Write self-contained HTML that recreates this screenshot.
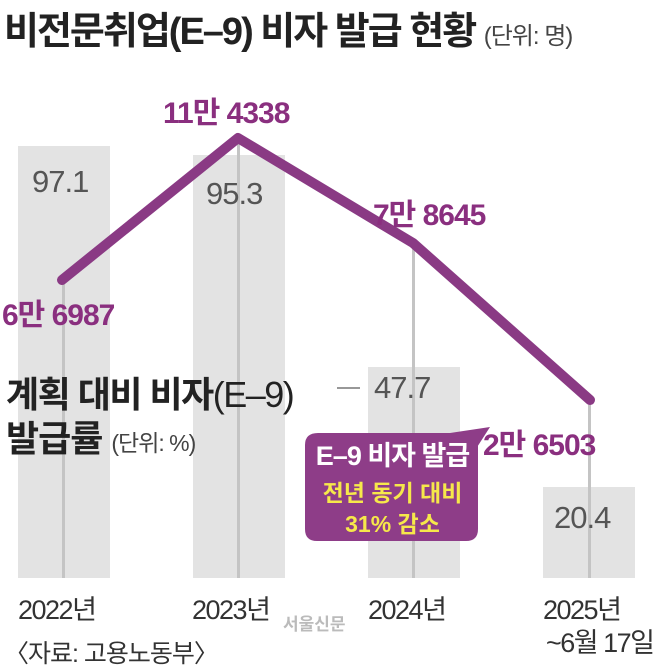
<!DOCTYPE html>
<html><head><meta charset="utf-8"><style>
body{margin:0;width:659px;height:668px;background:#fff;overflow:hidden;font-family:"Liberation Sans","Noto Sans CJK KR",sans-serif;position:relative}
.t{position:absolute;white-space:nowrap}
.bar{position:absolute;background:#e3e3e3}
.vl{position:absolute;width:3px;background:#c4c4c4}
.p{color:#8a2f7f;font-size:30px;letter-spacing:-1px;font-weight:bold}
.g{color:#555;font-size:31px;letter-spacing:-1px}
.x{color:#333;font-size:27px;letter-spacing:-1.5px}
</style></head><body>
<div class="t" style="left:4px;top:0px;font-size:38px;font-weight:bold;color:#222;letter-spacing:-2px">비전문취업(E–9) 비자 발급 현황 <span style="font-size:24px;font-weight:normal;color:#444;letter-spacing:-1px">(단위: 명)</span></div>

<div class="bar" style="left:18px;top:146px;width:92px;height:432px"></div>
<div class="bar" style="left:193px;top:155px;width:92px;height:423px"></div>
<div class="bar" style="left:368px;top:367px;width:92px;height:211px"></div>
<div class="bar" style="left:543px;top:487px;width:92px;height:91px"></div>
<div class="vl" style="left:62px;top:280px;height:298px"></div>
<div class="vl" style="left:237px;top:140px;height:438px"></div>
<div class="vl" style="left:412px;top:245px;height:333px"></div>
<div class="vl" style="left:588px;top:405px;height:173px"></div>

<svg class="t" style="left:0;top:0" width="659" height="668">
<polyline points="62,280 238,138 413,243 590,400" fill="none" stroke="#8a3a84" stroke-width="10" stroke-linecap="round" stroke-linejoin="round"/>
<line x1="337" y1="388" x2="360" y2="388" stroke="#777" stroke-width="1.5"/>
<path d="M318,433 H483 L478,441 L478,529 Q478,541 466,541 H317 Q305,541 305,529 V445 Q305,433 318,433 Z" fill="#8e3d88"/>
<path d="M450,433 L490,427 L472,455 Z" fill="#8e3d88"/>
</svg>

<div class="t g" style="left:32px;top:164px">97.1</div>
<div class="t g" style="left:206px;top:176px">95.3</div>
<div class="t g" style="left:374px;top:370px">47.7</div>
<div class="t g" style="left:554px;top:500px">20.4</div>

<div class="t p" style="left:163px;top:88px">11만 4338</div>
<div class="t p" style="left:2px;top:290px">6만 6987</div>
<div class="t p" style="left:373px;top:190px">7만 8645</div>
<div class="t p" style="left:483px;top:420px">2만 6503</div>

<div class="t" style="left:6px;top:366px;font-size:36px;font-weight:bold;color:#222;letter-spacing:-1.5px">계획 대비 비자<span style="font-weight:normal">(E–9)</span></div>
<div class="t" style="left:6px;top:410px;font-size:36px;font-weight:bold;color:#222;letter-spacing:-1px">발급률 <span style="font-size:23px;font-weight:normal;color:#444">(단위: %)</span></div>

<div class="t" style="left:305px;top:434px;width:175px;text-align:center;color:#fff;font-size:27px;font-weight:bold;letter-spacing:-1px">E–9 비자 발급</div>
<div class="t" style="left:305px;top:474px;width:175px;text-align:center;color:#f6e84a;font-size:23px;font-weight:bold">전년 동기 대비</div>
<div class="t" style="left:305px;top:505px;width:175px;text-align:center;color:#f6e84a;font-size:23px;font-weight:bold">31% 감소</div>

<div class="t x" style="left:18px;top:588px">2022년</div>
<div class="t x" style="left:192px;top:588px">2023년</div>
<div class="t x" style="left:368px;top:588px">2024년</div>
<div class="t x" style="left:543px;top:588px">2025년</div>
<div class="t x" style="left:546px;top:621px">~6월 17일</div>
<div class="t" style="left:283px;top:610px;font-size:17px;color:#bbb;font-weight:bold">서울신문</div>
<div class="t" style="left:4px;top:634px;font-size:25px;color:#333;letter-spacing:-1px">〈자료: 고용노동부〉</div>
</body></html>
